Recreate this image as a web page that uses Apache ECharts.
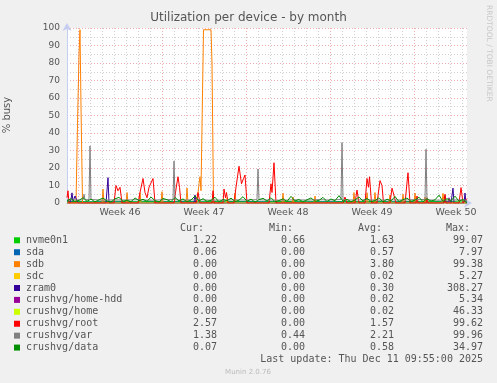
<!DOCTYPE html>
<html><head><meta charset="utf-8">
<script src="https://cdn.jsdelivr.net/npm/echarts@6/dist/echarts.min.js"></script>
<style>html,body{margin:0;padding:0;background:#f0f0f0}#c{width:497px;height:383px}</style>
</head><body><div id="c"></div>
<script>
// x values are hours since the start of week 46
const xMin = -22, xMax = 778;
const weekLabelPos = [84, 252, 420, 588, 756];
const weekLabels = ['Week 46', 'Week 47', 'Week 48', 'Week 49', 'Week 50'];
const weekLines = [0, 168, 336, 504, 672];
const dayLines = [24,48,72,96,120,144,192,216,240,264,288,312,360,384,408,432,456,480,528,552,576,600,624,648,696,720,744,768];
const yTicks = [0,10,20,30,40,50,60,70,80,90,100];

const names = ['nvme0n1','sda','sdb','sdc','zram0','crushvg/home-hdd','crushvg/home','crushvg/root','crushvg/var','crushvg/data'];
const colors = ['#00cc00','#0066b3','#ff8000','#ffcc00','#330099','#990099','#ccff00','#ff0000','#808080','#008f00'];
const curVals = ['1.22','0.06','0.00','0.00','0.00','0.00','0.00','2.57','1.38','0.07'];
const minVals = ['0.66','0.00','0.00','0.00','0.00','0.00','0.00','0.00','0.44','0.00'];
const avgVals = ['1.63','0.57','3.80','0.02','0.30','0.02','0.02','1.57','2.21','0.58'];
const maxVals = ['99.07','7.97','99.38','5.27','308.27','5.34','46.33','99.62','99.96','34.97'];

// nvme0n1: daily samples
const nvmeHours = [-22,2,26,50,74,98,122,146,170,194,218,242,266,290,314,338,362,386,410,434,458,482,506,530,554,578,602,626,650,674,698,722,746,770,778];
const nvmeVals  = [0.8,0.9,0.7,0.8,1.0,0.8,0.7,0.9,0.8,0.8,0.9,0.7,0.8,1.0,0.8,0.9,0.7,0.8,0.8,0.9,1.0,0.8,0.7,0.9,0.8,0.8,0.9,0.7,0.8,0.9,1.0,0.8,0.9,1.1,1.22];

const sda = [[-22,0.3],[-18,0.5],[-16,2],[-14,0.4],[24,0.5],[72,0.6],[120,0.4],[168,0.5],[216,0.6],[264,0.4],[312,0.5],[360,0.6],[408,0.4],[456,0.5],[504,0.6],[552,0.4],[600,0.5],[648,0.6],[696,0.4],[744,0.5],[778,0.06]];

const sdb = [[-22,0],[-4,0],[-1,45],[2,85],[4,99],[6,55],[9,0],
  [48,0],[50,8],[52,0],[96,0],[98,6],[100,0],[122,0],[124,6],[126,0],
  [166,0],[168,6.5],[170,0],[216,0],[218,8.6],[220,0],
  [238,0],[242,11],[244,15],[246,7],[249,8],[251,99],[266,99],[268,80],[271,0],
  [312,0],[314,5.7],[316,0],[408,0],[410,5.7],[412,0],[428,0],[430,3.4],[432,0],
  [472,0],[474,4],[476,0],[550,0],[552,6],[554,0],[576,0],[578,5.9],[580,0],
  [592,0],[594,6],[596,0],[622,0],[624,4.6],[626,0],[648,0],[650,5],[652,0],
  [672,0],[674,5.7],[676,0],[692,0],[694,3.4],[696,0],[728,0],[730,5.5],[732,0],[778,0]];

const sdc = [[-22,0],[296,0],[298,3],[300,0],[778,0]];

const zram = [[-22,0],[-16,0],[-14,2],[-12,5.8],[-10,1],[-6,4],[-2,3.4],[0,0],
  [56,0],[60,14.5],[62,0],[232,0],[234,4.6],[236,0],
  [732,0],[734,4.2],[736,0],[746,0],[750,8.5],[752,0],[772,0],[774,5.7],[776,0],[778,0]];

const homeHdd = [[-22,0],[740,0],[742,3],[744,0],[778,0]];
const home = [[-22,0],[778,0]];

const root = [[-22,3],[-20,7],[-18,0],
  [72,0],[76,10],[80,7],[84,9],[88,0],
  [120,0],[124,6],[130,14],[134,6],[138,3],[142,9],[150,14],[154,0],
  [192,0],[196,8],[200,15],[203,9],[206,0],
  [236,0],[240,6],[244,0],
  [268,0],[270,7],[272,0],[290,0],[292,8],[295,3],[297,6],[300,0],
  [312,0],[316,9],[322,21],[327,11],[331,14],[334,16],[338,0],
  [382,0],[386,11],[388,6],[392,23],[396,0],
  [530,0],[534,3.4],[538,0],[554,0],[558,7.4],[562,0],
  [574,0],[578,14],[581,9],[583,15],[587,0],
  [598,0],[604,12.8],[608,10],[611,0],
  [624,0],[628,8.5],[632,8.8],[636,0],
  [654,0],[660,17.3],[664,0],[676,0],[678,4],[680,0],[696,0],[698,3],[700,0],
  [732,0],[734,5],[736,0],[762,0],[766,8.8],[770,0],[774,0],[778,2.57]];

const varS = [[-22,1.8],[0,1.7],[10,1.8],[12,5],[14,1.8],[22,2],[24,32.6],[26,2],[48,1.6],[72,1.8],[96,1.7],[120,1.9],[144,1.6],[168,1.8],
  [190,2],[192,24],[194,1.8],[216,1.7],[240,1.9],[264,1.6],[288,1.7],[312,1.8],[336,1.7],[358,1.9],[360,19.4],[362,1.8],
  [384,1.7],[408,1.6],[432,1.8],[456,1.7],[480,1.9],[504,1.7],[526,2],[528,34.5],[530,1.8],[552,1.7],[576,1.9],[600,1.6],
  [624,1.8],[648,1.7],[672,1.9],[694,2],[696,30.7],[698,1.8],[720,1.6],[744,1.7],[768,1.8],[778,1.38]];

// crushvg/data: 8-hour samples starting at -22
const dataStart = -22, dataStep = 8;
const dataVals = [1.2,2.5,0.8,1.5,3.0,1.0,2.2,0.6,1.8,2.8,
 1.1,0.5,2.4,3.2,1.0,1.6,0.7,2.9,1.3,2.1,
 0.9,3.4,1.4,0.6,2.6,1.9,0.8,3.1,1.2,2.3,
 0.7,1.7,4.0,1.1,2.5,0.9,1.5,3.3,0.6,2.0,
 1.3,2.8,0.8,1.6,3.6,1.0,2.2,0.5,1.9,2.7,
 1.1,3.0,0.7,1.4,2.4,0.9,3.8,1.2,2.0,0.6,
 1.8,2.9,1.0,1.5,3.2,0.8,2.3,1.3,4.2,1.0,
 2.1,0.7,1.7,3.5,1.1,2.6,0.9,1.4,3.0,0.6,
 2.2,1.2,3.7,0.8,1.9,2.8,1.0,1.6,3.3,0.7,
 2.4,1.1,1.8,4.5,0.9,2.5,1.3,3.9,1.0,2.0,0.07];

const nvme = nvmeHours.map((h,i)=>[h,nvmeVals[i]]);
const dataS = dataVals.map((v,i)=>[dataStart+i*dataStep, v]);
const seriesData = [nvme, sda, sdb, sdc, zram, homeHdd, home, root, varS, dataS];

const chart = echarts.init(document.getElementById('c'), null, {renderer:'canvas'});
const axisCol = '#c6cdf2';
const gridMinor = {color:'rgba(150,150,150,0.45)', type:[1,2], width:1};
const gridMajor = {color:'rgba(222,90,90,0.5)', type:[1,2], width:1};

const series = [{
  type:'line', data:[], silent:true, z:1,
  markLine:{silent:true, symbol:'none', animation:false, label:{show:false},
    lineStyle: gridMinor,
    emphasis:{disabled:true},
    data: dayLines.map(h=>({xAxis:h})).concat(weekLines.map(h=>({xAxis:h, lineStyle:gridMajor})))}
}];
names.forEach((n,i)=>{
  series.push({name:n, type:'line', data:seriesData[i], showSymbol:false, symbol:'none',
    lineStyle:{width:1, color:colors[i]}, itemStyle:{color:colors[i]}, z:2+i, silent:true});
});

const mono = '"DejaVu Sans Mono", monospace';
const sans = '"DejaVu Sans", sans-serif';
const txtCol = '#555';
const graphic = [
  {type:'text', left:'center', top:12, style:{text:'Utilization per device - by month', font:'12px '+sans, fill:'#555'}},
  {type:'text', x:7, y:115, rotation:Math.PI/2, style:{text:'% busy', font:'10px '+sans, fill:'#555', textAlign:'center', textVerticalAlign:'middle'}},
  {type:'text', x:489, y:5, rotation:-Math.PI/2, style:{text:'RRDTOOL / TOBI OETIKER', font:'7.5px '+sans, fill:'#c8c8c8', textAlign:'left', textVerticalAlign:'middle'}},
  {type:'text', x:204, y:228, style:{text:'Cur:', font:'10px '+mono, fill:txtCol, textAlign:'right', textVerticalAlign:'middle'}},
  {type:'text', x:293, y:228, style:{text:'Min:', font:'10px '+mono, fill:txtCol, textAlign:'right', textVerticalAlign:'middle'}},
  {type:'text', x:382, y:228, style:{text:'Avg:', font:'10px '+mono, fill:txtCol, textAlign:'right', textVerticalAlign:'middle'}},
  {type:'text', x:470, y:228, style:{text:'Max:', font:'10px '+mono, fill:txtCol, textAlign:'right', textVerticalAlign:'middle'}},
  {type:'text', x:483, y:359, style:{text:'Last update: Thu Dec 11 09:55:00 2025', font:'10px '+mono, fill:txtCol, textAlign:'right', textVerticalAlign:'middle'}},
  {type:'text', x:248, y:372, style:{text:'Munin 2.0.76', font:'7px '+sans, fill:'#bbb', textAlign:'center', textVerticalAlign:'middle'}}
];
names.forEach((n,i)=>{
  const y = 240.3 + i*11.92;
  graphic.push({type:'rect', shape:{x:14, y:y-3, width:6, height:6}, style:{fill:colors[i]}});
  graphic.push({type:'text', x:26, y:y, style:{text:n, font:'10px '+mono, fill:txtCol, textVerticalAlign:'middle'}});
  [[curVals,217],[minVals,305],[avgVals,394],[maxVals,483]].forEach(([arr,x])=>{
    graphic.push({type:'text', x:x, y:y, style:{text:arr[i], font:'10px '+mono, fill:txtCol, textAlign:'right', textVerticalAlign:'middle'}});
  });
});

chart.setOption({
  animation:false,
  backgroundColor:'#f0f0f0',
  grid:{left:67, top:28, width:400, height:175, show:true, backgroundColor:'#fff', borderWidth:0},
  xAxis:{type:'value', min:xMin, max:xMax,
    axisLine:{show:true, onZero:false, lineStyle:{color:axisCol}, symbol:['none','arrow'], symbolSize:[7,8], symbolOffset:[0,5]},
    axisTick:{show:false}, splitLine:{show:false},
    axisLabel:{customValues:weekLabelPos, formatter:(v)=>weekLabels[weekLabelPos.indexOf(v)] || '', fontSize:9.5, fontFamily:sans, color:'#555', margin:5, showMinLabel:true, showMaxLabel:true}},
  yAxis:{type:'value', min:0, max:100, interval:10,
    axisLine:{show:true, onZero:false, lineStyle:{color:axisCol}, symbol:['none','arrow'], symbolSize:[7,8], symbolOffset:[0,5]},
    axisTick:{show:false},
    splitLine:{show:true, lineStyle:gridMajor},
    minorTick:{show:false, splitNumber:2},
    minorSplitLine:{show:true, lineStyle:gridMinor},
    axisLabel:{fontSize:9, fontFamily:sans, color:'#555', margin:7, formatter:(v)=> yTicks.indexOf(v)>=0 ? String(v) : ''}},
  series: series,
  graphic: graphic
});
</script></body></html>
